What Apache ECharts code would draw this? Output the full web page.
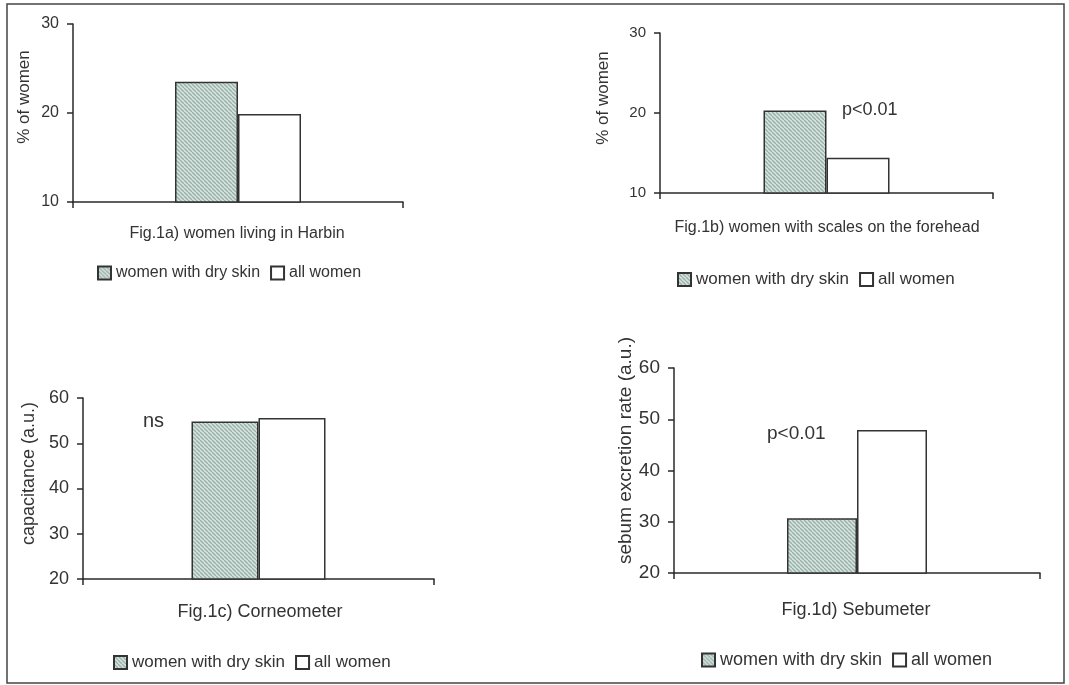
<!DOCTYPE html>
<html>
<head>
<meta charset="utf-8">
<script src="https://cdn.jsdelivr.net/npm/echarts@6/dist/echarts.min.js"></script>
<style>html,body{margin:0;padding:0;background:#fff;}#c{width:1069px;height:685px;}</style>
</head>
<body>
<div id="c"></div>
<script>
// ---- data ----
const seriesNames = ['women with dry skin', 'all women'];
const panelTitles = ['Fig.1a) women living in Harbin', 'Fig.1b) women with scales on the forehead', 'Fig.1c) Corneometer', 'Fig.1d) Sebumeter'];
const yAxisNames = ['% of women', '% of women', 'capacitance (a.u.)', 'sebum excretion rate (a.u.)'];
const dryA = [23.5], allA = [19.9];
const dryB = [20.3], allB = [14.4];
const dryC = [54.8], allC = [55.6];
const dryD = [30.7], allD = [47.9];
const yMin = [10, 10, 20, 20];
const yMax = [30, 30, 60, 60];
const yStep = [10, 10, 10, 10];
const annotations = ['p<0.01', 'ns', 'p<0.01'];

// ---- hatch pattern ----
function makeHatch() {
  const s = 4;
  const cv = document.createElement('canvas');
  cv.width = s; cv.height = s;
  const g = cv.getContext('2d');
  g.fillStyle = '#d7e3df';
  g.fillRect(0, 0, s, s);
  g.strokeStyle = '#97b0a8';
  g.lineWidth = 1.3;
  for (let k = -1; k <= 1; k++) {
    g.beginPath();
    g.moveTo(k * s, 0);
    g.lineTo(k * s + s, s);
    g.stroke();
  }
  return cv;
}
const hatch = { image: makeHatch(), repeat: 'repeat' };

const FONT = '"Liberation Sans", Arial, sans-serif';
const ink = '#2a2a2a';

const grids = [
  { left: 73, top: 24, width: 330, height: 178 },
  { left: 660, top: 33, width: 333, height: 160 },
  { left: 83, top: 398, width: 351, height: 181 },
  { left: 674, top: 368, width: 366, height: 205 }
];
const tickFont = [16, 15, 18, 19];
const nameFont = [17, 17, 18, 19];
const nameGap = [40, 48, 45, 37];
const namePadL = [32, 30, 30, 40];
const barW = [63, 63, 67, 70];
const dry = [dryA, dryB, dryC, dryD];
const all = [allA, allB, allC, allD];

const xAxis = grids.map((g, i) => ({
  type: 'category', gridIndex: i, data: [''],
  axisLine: { lineStyle: { color: ink, width: 1.5 } },
  axisTick: { show: true, length: 6, lineStyle: { color: ink, width: 1.5 } },
  axisLabel: { show: false }
}));
const yAxis = grids.map((g, i) => ({
  type: 'value', gridIndex: i, min: yMin[i], max: yMax[i], interval: yStep[i],
  name: yAxisNames[i], nameLocation: 'middle', nameGap: nameGap[i],
  nameTextStyle: { fontFamily: FONT, fontSize: nameFont[i], color: '#333', padding: [0, 0, 0, namePadL[i]] },
  axisLine: { show: true, lineStyle: { color: ink, width: 1.5 } },
  axisTick: { show: true, length: 6, lineStyle: { color: ink, width: 1.5 } },
  axisLabel: { fontFamily: FONT, fontSize: tickFont[i], color: '#333', margin: 14 },
  splitLine: { show: false }
}));

const series = [];
grids.forEach((g, i) => {
  series.push({
    type: 'bar', name: seriesNames[0], xAxisIndex: i, yAxisIndex: i, data: dry[i],
    barWidth: barW[i], barGap: '0%',
    itemStyle: { color: hatch, borderColor: '#333', borderWidth: 1.5 }
  });
  series.push({
    type: 'bar', name: seriesNames[1], xAxisIndex: i, yAxisIndex: i, data: all[i],
    barWidth: barW[i], barGap: '0%',
    itemStyle: { color: '#ffffff', borderColor: '#333', borderWidth: 1.5 }
  });
});

const titlePos = [
  { x: 237, y: 234, size: 16 },
  { x: 827, y: 228, size: 16 },
  { x: 260, y: 612, size: 18 },
  { x: 856, y: 610, size: 18 }
];
const legendPos = [
  { left: 97, y: 273, size: 16 },
  { left: 677, y: 279, size: 17 },
  { left: 113, y: 662, size: 17 },
  { left: 701, y: 659, size: 18 }
];
const legend = legendPos.map(p => ({
  data: seriesNames, left: p.left, top: p.y - 8, padding: 0,
  itemWidth: 13, itemHeight: 13, itemGap: 10, icon: 'rect',
  selectedMode: false,
  textStyle: { fontFamily: FONT, fontSize: p.size, color: '#333' }
}));

const graphic = [
  { type: 'rect', shape: { x: 7, y: 4, width: 1057, height: 679 }, style: { fill: 'none', stroke: '#444', lineWidth: 1.5 }, silent: true }
];
titlePos.forEach((p, i) => graphic.push({
  type: 'text', x: p.x, y: p.y,
  style: { text: panelTitles[i], fontFamily: FONT, fontSize: p.size, fill: '#333', align: 'center', verticalAlign: 'middle' }
}));
const annPos = [
  { x: 842, y: 110, size: 18 },
  { x: 143, y: 421, size: 20 },
  { x: 767, y: 434, size: 19 }
];
annPos.forEach((p, i) => graphic.push({
  type: 'text', x: p.x, y: p.y,
  style: { text: annotations[i], fontFamily: FONT, fontSize: p.size, fill: '#333', align: 'left', verticalAlign: 'middle' }
}));

const chart = echarts.init(document.getElementById('c'), null, { renderer: 'canvas' });
chart.setOption({
  backgroundColor: '#ffffff',
  animation: false,
  grid: grids,
  xAxis, yAxis, series, legend, graphic
});
</script>
</body>
</html>
